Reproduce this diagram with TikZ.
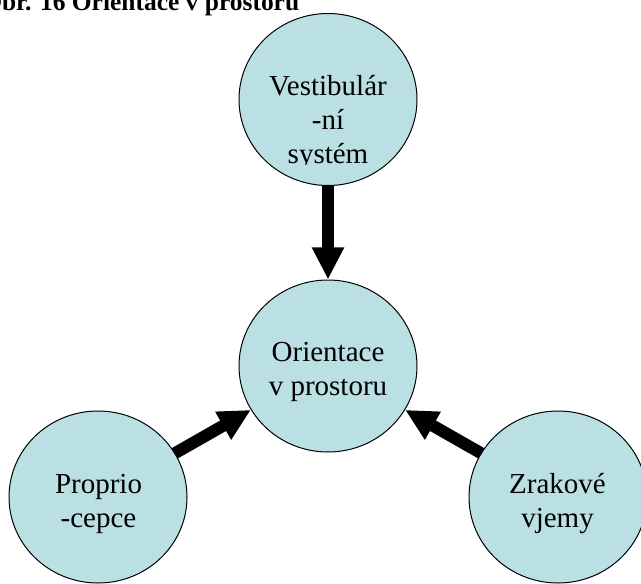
\documentclass[tikz,border=0pt]{standalone}
\usepackage{fontspec}
\setmainfont{Liberation Serif}
\usetikzlibrary{arrows.meta,backgrounds,shapes.geometric}
\definecolor{bubblefill}{RGB}{186,224,228}

\begin{document}
\begin{tikzpicture}[x=0.75pt, y=-0.75pt,
  bubble/.style={ellipse, draw, line width=0.75pt, fill=bubblefill, minimum width=133.5pt, minimum height=129pt, inner sep=0pt},
  caption/.style={anchor=base, align=center, inner sep=0pt, font=\fontsize{21.75pt}{25.5pt}\selectfont},
  flow/.style={line width=9pt, shorten <=-6pt, -{Triangle[length=24pt, width=22.5pt]}}]
\useasboundingbox (0,0) rectangle (641,584);
\node[anchor=base west, inner sep=0pt, font=\bfseries\fontsize{19.1pt}{23pt}\selectfont] (title) at (-18,11) {Obr. 16 Orientace v prostoru};
\node[bubble] (vest) at (328,99.5) {};
\node[bubble] (orient) at (328,366) {};
\node[bubble] (prop) at (98,497) {};
\node[bubble] (zrak) at (558,497) {};
% text box of the top circle cuts its last line
\begin{scope}
\clip (0,0) rectangle (641,165);
\node[caption] (vesttxt) at (328,164) {Vestibulár\\-ní\\systém};
\end{scope}
\node[caption] (orienttxt) at (328,395) {Orientace\\v prostoru};
\node[caption] (proptxt) at (98.5,527) {Proprio\\-cepce};
\node[caption] (zraktxt) at (557.5,527) {Zrakové\\vjemy};
\begin{scope}[on background layer]
\draw[flow] (vest) -- (orient);
\draw[flow] (prop) -- (orient);
\draw[flow] (zrak) -- (orient);
\end{scope}
\end{tikzpicture}
\end{document}
